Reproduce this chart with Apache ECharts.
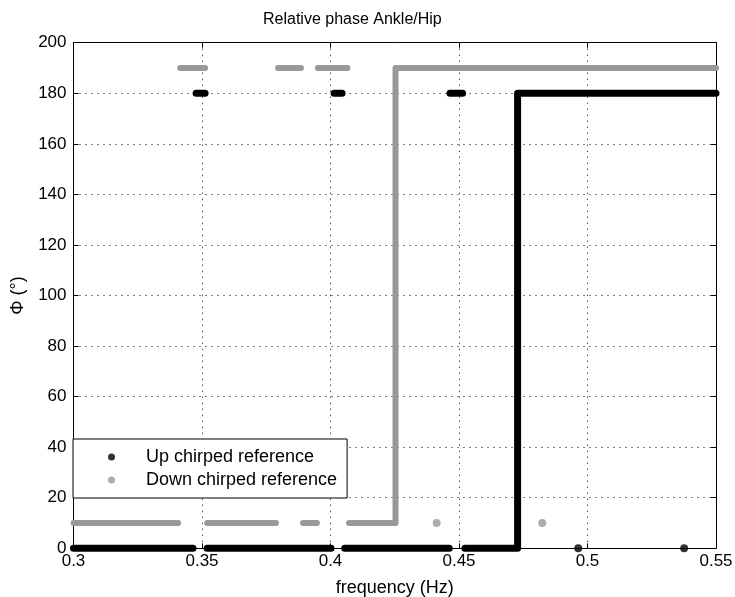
<!DOCTYPE html>
<html>
<head>
<meta charset="utf-8">
<script src="https://cdn.jsdelivr.net/npm/echarts@6/dist/echarts.min.js"></script>
<style>
html,body{margin:0;padding:0;background:#fff;}
#chart{width:735px;height:597px;}
</style>
</head>
<body>
<div id="chart"></div>
<script>
// ---- Data ----
var xTicks = [0.3, 0.35, 0.4, 0.45, 0.5, 0.55];
var yTicks = [0, 20, 40, 60, 80, 100, 120, 140, 160, 180, 200];

// Up chirped reference (black): horizontal runs [xStart, xEnd, phase]
var upRuns = [
  [0.3, 0.3465, 0],
  [0.352, 0.4002, 0],
  [0.4055, 0.4462, 0],
  [0.3477, 0.3512, 180],
  [0.4014, 0.4045, 180],
  [0.4465, 0.4514, 180]
];
// Up chirped step (phase jump 0 -> 180)
var upStep = [[0.4523, 0], [0.4728, 0], [0.4728, 180], [0.55, 180]];
// isolated points
var upPoints = [[0.4964, 0], [0.5376, 0]];

// Down chirped reference (gray)
var downRuns = [
  [0.3, 0.3407, 10],
  [0.352, 0.3788, 10],
  [0.3893, 0.3947, 10],
  [0.3415, 0.3512, 190],
  [0.3796, 0.3885, 190],
  [0.3951, 0.4066, 190]
];
var downStep = [[0.4072, 10], [0.4253, 10], [0.4253, 190], [0.55, 190]];
var downPoints = [[0.4413, 10], [0.4824, 10]];

var UP = 'Up chirped reference';
var DOWN = 'Down chirped reference';
var BLACK = '#000000';
var GRAY = '#999999';

function lineSeries(name, color, width, pts) {
  return {
    type: 'line', name: name, data: pts, symbol: 'none', showSymbol: false,
    clip: false, silent: true, animation: false,
    itemStyle: { color: color },
    lineStyle: { color: color, width: width, cap: 'round', join: 'round' }
  };
}
function runsToSeries(name, color, width, runs) {
  return runs.map(function (r) {
    return lineSeries(name, color, width, [[r[0], r[2]], [r[1], r[2]]]);
  });
}
function pointSeries(name, color, pts) {
  return {
    type: 'scatter', name: name, data: pts, symbol: 'circle', symbolSize: 8,
    clip: false, silent: true, animation: false, itemStyle: { color: color }
  };
}

var series = [];
series.push(pointSeries(UP, BLACK, upPoints));
series = series.concat(runsToSeries(UP, BLACK, 7, upRuns));
series.push(lineSeries(UP, BLACK, 7, upStep));
series.push(pointSeries(DOWN, GRAY, downPoints));
series = series.concat(runsToSeries(DOWN, GRAY, 6, downRuns));
series.push(lineSeries(DOWN, GRAY, 6, downStep));

var FONT = '"Liberation Sans", Arial, Helvetica, sans-serif';
var xMin = xTicks[0], xMax = xTicks[xTicks.length - 1];
var xInt = xTicks[1] - xTicks[0];
var yMin = yTicks[0], yMax = yTicks[yTicks.length - 1];
var yInt = yTicks[1] - yTicks[0];

var dotted = { show: true, lineStyle: { color: '#000', width: 1, type: [1, 5] } };

var chart = echarts.init(document.getElementById('chart'), null, { renderer: 'canvas' });
chart.setOption({
  backgroundColor: '#ffffff',
  animation: false,
  textStyle: { fontFamily: FONT },
  title: {
    text: 'Relative phase Ankle/Hip',
    left: 258, top: 7,
    textStyle: { fontFamily: FONT, fontSize: 16, fontWeight: 'normal', color: '#000' }
  },
  grid: { left: 73.5, right: 19, top: 42.7, bottom: 48.7, containLabel: false, outerBoundsMode: 'none' },
  legend: {
    orient: 'vertical',
    left: 73, top: 439,
    padding: [8, 10, 8, 35],
    itemGap: 3,
    itemWidth: 7, itemHeight: 7,
    borderColor: '#000', borderWidth: 1, backgroundColor: '#fff',
    data: [{ name: UP, icon: 'circle' }, { name: DOWN, icon: 'circle' }],
    textStyle: { fontFamily: FONT, fontSize: 18, color: '#000', lineHeight: 20, padding: [0, 0, 0, 26] },
    selectedMode: false
  },
  xAxis: [{
    type: 'value', position: 'bottom', min: xMin, max: xMax, interval: xInt,
    name: 'frequency (Hz)', nameLocation: 'middle', nameGap: 31,
    nameTextStyle: { fontFamily: FONT, fontSize: 18, color: '#000' },
    axisLine: { show: true, onZero: false, lineStyle: { color: '#000', width: 1 } },
    axisTick: { show: true, inside: true, length: 5, lineStyle: { color: '#000' } },
    axisLabel: { fontFamily: FONT, fontSize: 17, color: '#000', margin: 5,
      formatter: function (v) { return String(+v.toFixed(2)); } },
    splitLine: dotted
  }, {
    type: 'value', position: 'top', min: xMin, max: xMax, interval: xInt,
    axisLine: { show: true, onZero: false, lineStyle: { color: '#000', width: 1 } },
    axisTick: { show: true, inside: true, length: 5, lineStyle: { color: '#000' } },
    axisLabel: { show: false }, splitLine: { show: false }
  }],
  yAxis: [{
    type: 'value', position: 'left', min: yMin, max: yMax, interval: yInt,
    name: 'Φ (°)', nameLocation: 'middle', nameGap: 43,
    nameTextStyle: { fontFamily: FONT, fontSize: 18, color: '#000' },
    axisLine: { show: true, onZero: false, lineStyle: { color: '#000', width: 1 } },
    axisTick: { show: true, inside: true, length: 5, lineStyle: { color: '#000' } },
    axisLabel: { fontFamily: FONT, fontSize: 17, color: '#000', margin: 7 },
    splitLine: dotted
  }, {
    type: 'value', position: 'right', min: yMin, max: yMax, interval: yInt,
    axisLine: { show: true, onZero: false, lineStyle: { color: '#000', width: 1 } },
    axisTick: { show: true, inside: true, length: 5, lineStyle: { color: '#000' } },
    axisLabel: { show: false }, splitLine: { show: false }
  }],
  series: series
});
</script>
</body>
</html>
